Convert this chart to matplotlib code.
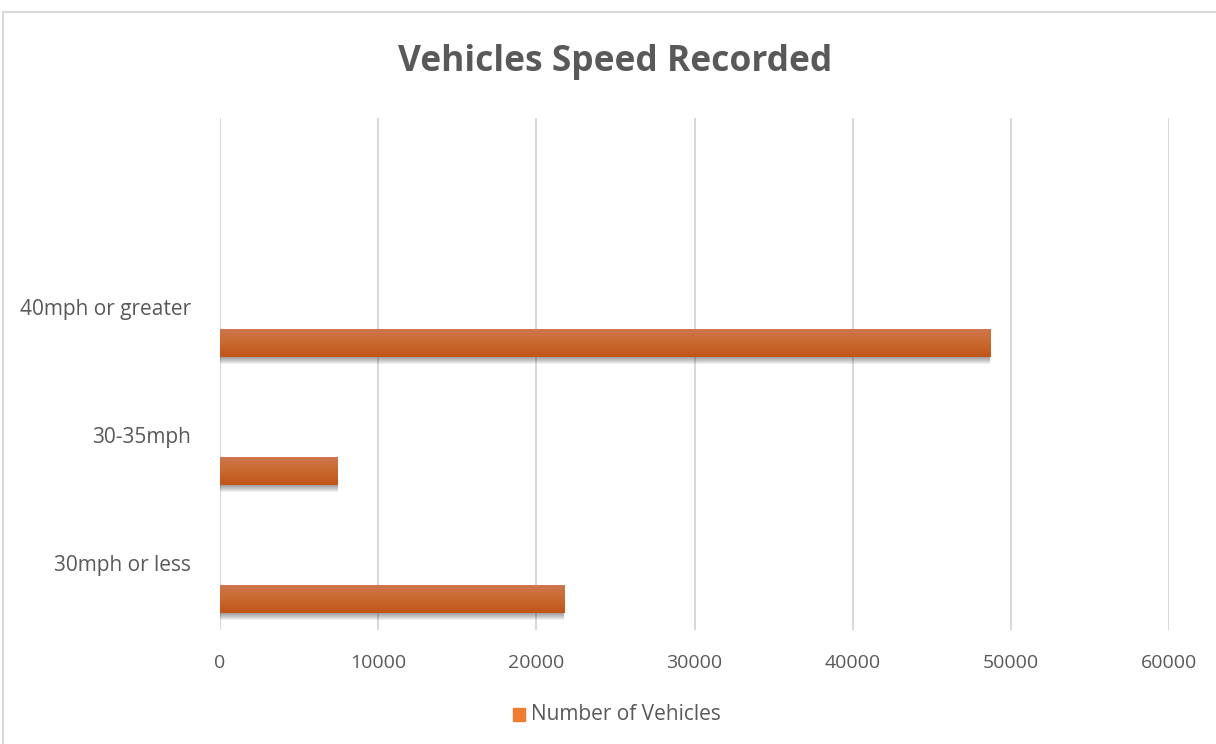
import matplotlib
matplotlib.use("Agg")
import matplotlib.pyplot as plt
import numpy as np
from matplotlib.lines import Line2D
from matplotlib.patches import Rectangle
from matplotlib.colors import LinearSegmentedColormap

categories = ["30mph or less", "30-35mph", "40mph or greater"]
values = [21750, 7450, 48700]
x_ticks = [0, 10000, 20000, 30000, 40000, 50000, 60000]
title = "Vehicles Speed Recorded"
series_name = "Number of Vehicles"

plt.rcParams['font.family'] = ['Open Sans', 'DejaVu Sans']
TXT = '#595959'
GRID = '#D9D9D9'

fig = plt.figure(figsize=(12.16, 7.44), dpi=100)
ax = fig.add_axes([220/1216, 1-630/744, (1169-220)/1216, (630-118)/744])

ypos = np.arange(len(categories))
offset = -0.258
height = 0.22

# soft drop shadow
for k in range(7):
    ax.barh(ypos + offset - 0.010 - k*0.007, values, height=height, left=0,
            color='black', alpha=0.06, zorder=2, linewidth=0)

bars = ax.barh(ypos + offset, values, height=height, color='#C55A11', zorder=3, linewidth=0)
grad = np.linspace(0, 1, 64).reshape(-1, 1)
cmap = LinearSegmentedColormap.from_list('g', ['#BF5518', '#C9692F', '#CE7850'])
for b in bars:
    x0, y0 = b.get_x(), b.get_y()
    w, h = b.get_width(), b.get_height()
    im = ax.imshow(grad, extent=[x0, x0 + w, y0, y0 + h], origin='lower',
                   cmap=cmap, aspect='auto', zorder=4)
    im.set_clip_path(b)

ax.set_xlim(0, 60000)
ax.set_ylim(-0.5, len(categories) + 0.5)
ax.set_xticks(x_ticks)
ax.set_xticklabels([str(t) for t in x_ticks])
ax.set_yticks(ypos)
ax.set_yticklabels(categories)
ax.tick_params(axis='x', length=0, labelsize=14, labelcolor=TXT, pad=17)
ax.tick_params(axis='y', length=0, labelsize=15, labelcolor=TXT, pad=21)
for lbl in ax.get_yticklabels():
    lbl.set_verticalalignment('center')
ax.grid(axis='x', color=GRID, linewidth=1.5, zorder=0)
ax.set_axisbelow(True)
for s in ax.spines.values():
    s.set_visible(False)

fig.text(615/1216, 1-62/744, title, ha='center', va='center', fontsize=25.5,
         fontweight='bold', color=TXT)

# legend
fig.patches.append(Rectangle((513/1216, 1-721/744), 12/1216, 13/744,
                             transform=fig.transFigure, color='#ED7D31', figure=fig))
fig.text(531/1216, 1-714/744, series_name, ha='left', va='center', fontsize=15, color=TXT)

# outer border
fig.add_artist(Line2D([2.5/1216, 1], [1-11.5/744]*2, color=GRID, linewidth=1.5, transform=fig.transFigure))
fig.add_artist(Line2D([2.5/1216]*2, [0, 1-11.5/744], color=GRID, linewidth=1.5, transform=fig.transFigure))

fig.savefig('out.png', dpi=100, facecolor='white')
